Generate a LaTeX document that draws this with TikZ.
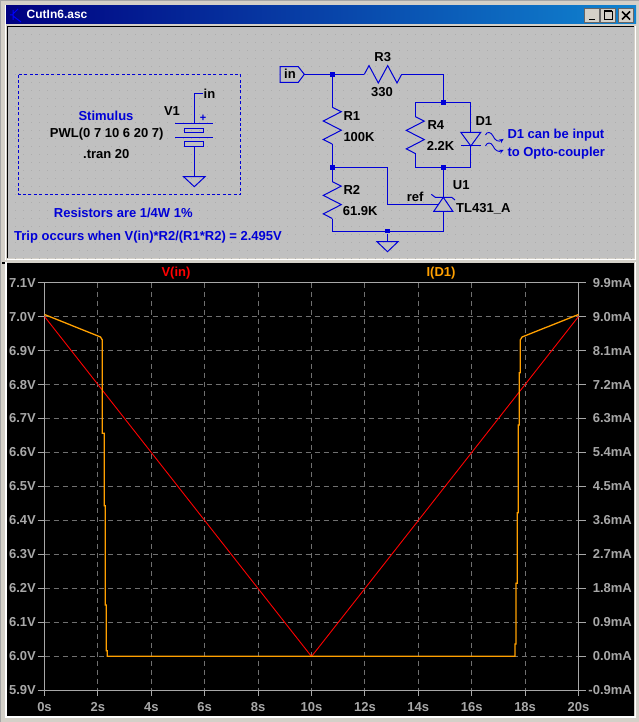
\documentclass[tikz,border=0pt]{standalone}
\usepackage{fontspec}
\setmainfont{Liberation Sans}
\usepackage{tikz}
\pgfdeclarelayer{background}
\pgfdeclarelayer{foreground}
\pgfsetlayers{background,main,foreground}
\definecolor{schblue}{RGB}{0,0,215}
\definecolor{schgray}{RGB}{192,192,192}
\definecolor{winface}{RGB}{212,208,200}
\definecolor{plotgray}{RGB}{168,168,168}
\definecolor{gridgray}{RGB}{112,112,112}
\definecolor{traceorange}{RGB}{255,160,0}
\tikzset{
  wire/.style={draw=schblue,line width=1pt},
  junc/.style={fill=schblue,draw=none,minimum size=4.6pt,inner sep=0pt},
  lbl/.style={font=\fontsize{13}{13}\bfseries,inner sep=0pt,text height=9.3pt,text depth=0pt},
  bluelbl/.style={lbl,text=schblue},
  plotlbl/.style={lbl,text=plotgray},
  btn/.style={fill=winface,draw=black!60,line width=0.8pt},
}
\begin{document}
\begin{tikzpicture}[x=1pt,y=-1pt]
\useasboundingbox (0,0) rectangle (639,722);
\begin{pgfonlayer}{background}
\fill[winface] (0,0) rectangle (639,722);
\draw[gray!70,line width=1.5pt] (0.7,722) -- (0.7,0.7) -- (639,0.7);
\draw[white,line width=1pt] (5.5,260) -- (5.5,5.5) -- (636,5.5);
\shade[left color={rgb,255:red,0;green,0;blue,128},right color={rgb,255:red,16;green,132;blue,208}] (6,6) rectangle (636,24);
\fill[schgray] (7,26) rectangle (634,258);
\foreach \i in {1,...,78} \foreach \j in {1,...,29}
  \fill[black!32] ({7+8*\i},{26+8*\j}) rectangle +(1,1);
\draw[black,line width=1.4pt] (7.7,258) -- (7.7,26.7) -- (634,26.7);
\draw[white,line width=1.4pt] (7,259.3) -- (635.2,259.3) -- (635.2,26);
\fill[black] (2,262) rectangle (7,264);
\fill[black] (7,263) rectangle (634,716);
\draw[white,line width=1.4pt] (6,262) -- (6,717) -- (635.2,717) -- (635.2,262);
\end{pgfonlayer}
% title bar
\node[font=\fontsize{12}{12}\bfseries,text=white,anchor=west,inner sep=0pt] (title) at (26.5,14.5) {CutIn6.asc};
\draw[blue,line width=1pt] (10,15) -- (13,15) (13,10) -- (13,20) (13,14) -- (18,9) (13,16) -- (21,22);
\draw[btn] (584.5,8.5) rectangle (599.5,22.5);
\draw[btn] (600.5,8.5) rectangle (615.5,22.5);
\draw[btn] (618.5,8.5) rectangle (633.5,22.5);
\draw[black,line width=1.6pt] (589,19.5) -- (595,19.5);
\draw[black,line width=1pt] (604,11.5) rectangle (612,19.5);
\draw[black,line width=1.6pt] (604,11) -- (612,11);
\draw[black,line width=1.5pt] (622,11.5) -- (630,19.5) (630,11.5) -- (622,19.5);
% stimulus box
\draw[schblue,line width=0.9pt,dash pattern=on 3pt off 2.4pt] (18.3,74.7) rectangle (240.7,194.3);
\node[bluelbl] (stimulus) at (106,116.3) {Stimulus};
\node[lbl] (pwl) at (106.7,133.3) {PWL(0 7 10 6 20 7)};
\node[lbl] (tran) at (106.3,153.7) {.tran 20};
\node[bluelbl] (resnote) at (123.3,213.3) {Resistors are 1/4W 1\%};
\node[bluelbl,anchor=west] (tripnote) at (14,236.3) {Trip occurs when V(in)*R2/(R1*R2) = 2.495V};
\node[lbl] (v1) at (172,111) {V1};
\node[lbl,text=schblue,font=\fontsize{11}{11}\bfseries] (vplus) at (203,116.5) {+};
\node[lbl,anchor=west] (vin) at (203.5,93.7) {in};
\coordinate (vtop) at (194.3,93.3);
\coordinate (vinend) at (203.3,93.3);
\coordinate (vplate) at (194.3,123.3);
\coordinate (vlow) at (194.3,146.3);
\coordinate (vgnd) at (194.3,176.7);
\draw[wire] (vinend) -- (vtop) -- (vplate);
\draw[wire] (vlow) -- (vgnd);
\draw[wire] (175.3,123.3) -- (212.7,123.3) (175.3,137.3) -- (212.7,137.3);
\draw[wire] (184.3,128.3) rectangle (203.7,132.7);
\draw[wire] (184.3,141.3) rectangle (203.7,146.3);
\draw[wire] (183.6,176.7) -- (205,176.7) -- (194.3,186.7) -- cycle;
% net points
\coordinate (flagtip) at (304.3,74.3);
\node[junc] (jin) at (332.3,74.3) {};
\coordinate (r3l) at (364.3,74.3);
\coordinate (r3r) at (401.7,74.3);
\coordinate (r3c) at (443.3,74.3);
\node[junc] (jtop) at (443.3,102.3) {};
\coordinate (tl) at (415.3,102.3);
\coordinate (tr) at (470.3,102.3);
\coordinate (r1t) at (332.3,107.3);
\coordinate (r1b) at (332.3,144.1);
\node[junc] (jmid) at (332.3,167.3) {};
\coordinate (r2t) at (332.3,181.7);
\coordinate (r2b) at (332.3,218.5);
\coordinate (r4t) at (415.3,116.7);
\coordinate (r4b) at (415.3,153.5);
\node[junc] (jbot) at (443.3,167.3) {};
\coordinate (bl) at (415.3,167.3);
\coordinate (br) at (470.3,167.3);
\coordinate (dtop) at (470.3,132.3);
\coordinate (dbot) at (470.3,146);
\coordinate (utop) at (443.3,197.3);
\coordinate (ubot) at (443.3,211.3);
\coordinate (gl) at (332.3,231);
\coordinate (gr) at (443.3,231);
\node[junc] (jgnd) at (387.3,231) {};
\coordinate (gtip) at (387.3,241.7);
\coordinate (rbend) at (387.3,167.3);
\coordinate (rcor) at (387.3,204);
\coordinate (rend) at (438.3,204);
% wires
\draw[wire] (flagtip) -- (jin) -- (r3l);
\draw[wire] (r3r) -- (r3c) -- (jtop);
\draw[wire] (tl) -- (tr);
\draw[wire] (jin) -- (r1t);
\draw[wire] (r1b) -- (jmid) -- (r2t);
\draw[wire] (r2b) -- (gl) -- (gr) -- (ubot);
\draw[wire] (tl) -- (r4t);
\draw[wire] (r4b) -- (bl) -- (br) -- (dbot);
\draw[wire] (tr) -- (dtop);
\draw[wire] (jbot) -- (utop);
\draw[wire] (jmid) -- (rbend) -- (rcor) -- (rend);
\draw[wire] (jgnd) -- (gtip);
% resistors
\foreach \rtop in {r1t,r2t,r4t}
  \draw[wire] (\rtop) -- ++(9,4.4) -- ++(-18,9.3) -- ++(18,9.2) -- ++(-18,9.3) -- ++(9,4.6);
\draw[wire] (r3l) -- ++(4.7,-8.7) -- ++(9.3,17.4) -- ++(9.4,-17.4) -- ++(9.3,17.4) -- ++(4.7,-8.7);
% parts
\draw[wire] (280,66.7) -- (298.3,66.7) -- (flagtip) -- (298.3,82.3) -- (280,82.3) -- cycle;
\node[lbl] (inflag) at (290,74.3) {in};
\draw[wire] (460.8,132.3) -- (480.8,132.3) -- (470.8,146) -- cycle;
\draw[wire] (460.8,146) -- (480.8,146);
\draw[wire] (433.8,211.3) -- (452.8,211.3) -- (utop) -- cycle;
\draw[wire] (431.3,194.3) -- (435.3,197.3) -- (451.7,197.3) -- (455,200);
\draw[wire] (377,241.7) -- (398,241.7) -- (387.5,251.7) -- cycle;
\draw[schblue,line width=0.9pt,->,>=stealth] (485.5,135) .. controls (487,131) and (491,132) .. (493,136) .. controls (495,141) and (499,142) .. (503.5,139);
\draw[schblue,line width=0.9pt,->,>=stealth] (485.5,146) .. controls (487,142) and (491,142) .. (493,146) .. controls (495,151) and (499,152) .. (503.5,150);
% part labels
\node[lbl] (r3name) at (382.7,57.3) {R3};
\node[lbl] (r3val) at (382,92) {330};
\node[lbl,anchor=west] (r1name) at (343.3,116.3) {R1};
\node[lbl,anchor=west] (r1val) at (343.3,137) {100K};
\node[lbl,anchor=west] (r2name) at (343.3,190) {R2};
\node[lbl,anchor=west] (r2val) at (342.7,211) {61.9K};
\node[lbl,anchor=west] (r4name) at (427.3,125.3) {R4};
\node[lbl,anchor=west] (r4val) at (426.7,146) {2.2K};
\node[lbl,anchor=west] (d1name) at (475.3,121) {D1};
\node[lbl,anchor=west] (u1name) at (452.7,185) {U1};
\node[lbl,anchor=west] (refname) at (406.7,196.7) {ref};
\node[lbl,anchor=west] (u1val) at (456,208) {TL431\_A};
\node[bluelbl,anchor=west] (d1note) at (507.3,134.3) {D1 can be input};
\node[bluelbl,anchor=west] (d1note2) at (507.3,151.7) {to Opto-coupler};
% plot
\foreach \v/\m [count=\k from 0] in {7.1/9.9,7.0/9.0,6.9/8.1,6.8/7.2,6.7/6.3,6.6/5.4,6.5/4.5,6.4/3.6,6.3/2.7,6.2/1.8,6.1/0.9,6.0/0.0,5.9/-0.9} {
  \pgfmathsetmacro{\py}{282.5+33.96*\k}
  \draw[gridgray,line width=1pt,dash pattern=on 5pt off 4pt] (44.5,\py) -- (578.5,\py);
  \draw[plotgray,line width=1pt] (37.5,\py) -- (44.5,\py) (578.5,\py) -- (586,\py);
  \node[plotlbl,anchor=east] (volt\k) at (36,\py) {\v V};
  \node[plotlbl,anchor=east] (amp\k) at (632,\py) {\m mA};
}
\foreach \t in {0,2,...,20} {
  \pgfmathsetmacro{\px}{44.5+26.7*\t}
  \ifnum\t>0\ifnum\t<20
    \draw[gridgray,line width=1pt,dash pattern=on 5pt off 4pt] (\px,282.5) -- (\px,690);
  \fi\fi
  \draw[plotgray,line width=1pt] (\px,690) -- (\px,696);
  \node[plotlbl] (time\t) at (\px,706.5) {\t s};
}
\draw[plotgray,line width=1pt] (44.5,282.5) rectangle (578.5,690);
\node[lbl,text=red] (vtrace) at (176,272) {V(in)};
\node[lbl,text=traceorange] (itrace) at (441,272) {I(D1)};
\begin{pgfonlayer}{foreground}
\draw[red,line width=0.9pt] (44.5,316.5) -- (311.5,656.5) -- (578.5,316.5);
\draw[traceorange,line width=1.3pt] (44.5,314.5) -- (100.5,337) -- (102.3,340) -- (102.3,433.3) -- (104.3,433.3) -- (104.3,505.7) -- (105.3,505.7) -- (105.3,605) -- (106.2,605) -- (106.2,650.7) -- (107.3,650.7) -- (107.3,656.3) -- (515,656.3) -- (515,644) -- (516,644) -- (516,583.3) -- (517.3,583.3) -- (517.3,512.7) -- (518.3,512.7) -- (518.3,425) -- (519.3,425) -- (519.3,372.7) -- (520.3,372.7) -- (520.3,340) -- (522,337) -- (578.5,314.5);
\end{pgfonlayer}
\end{tikzpicture}
\end{document}
